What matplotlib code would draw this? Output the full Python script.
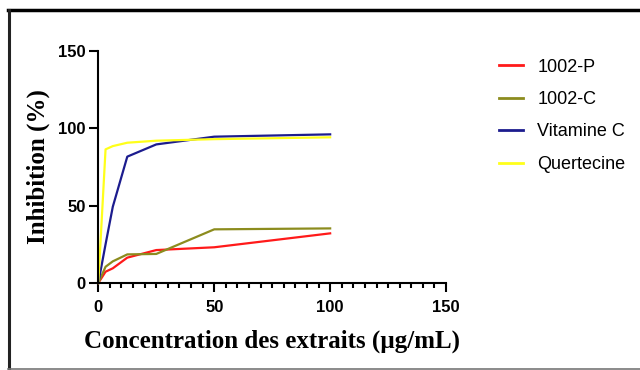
import matplotlib
matplotlib.use("Agg")
import matplotlib.pyplot as plt
from matplotlib.lines import Line2D
from matplotlib.ticker import MultipleLocator

# concentrations (ug/mL) and % inhibition
conc = [0, 3.125, 6.25, 12.5, 25, 50, 100]
p1002 = [0, 7.3, 9.5, 16.4, 21.3, 23.1, 32.1]
c1002 = [0, 10.5, 14.0, 18.5, 18.8, 34.7, 35.3]
vitc = [0, 25.0, 49.3, 81.7, 89.6, 94.6, 96.1]
querc = [0, 86.4, 88.5, 90.7, 92.0, 93.0, 94.2]

series = [
    ("1002-P", p1002, "#ff1a1a"),
    ("1002-C", c1002, "#8c8c1e"),
    ("Vitamine C", vitc, "#1c1c8e"),
    ("Quertecine", querc, "#ffff1a"),
]

fig = plt.figure(figsize=(6.4, 3.7), dpi=100)
ax = fig.add_axes([0.1536, 0.2351, 0.5434, 0.6271])

for name, vals, col in series:
    ax.plot(conc, vals, color=col, lw=1.6, label=name, clip_on=False)

ax.set_xlim(0, 150)
ax.set_ylim(0, 150)
ax.set_xticks([0, 50, 100, 150])
ax.set_yticks([0, 50, 100, 150])
ax.xaxis.set_minor_locator(MultipleLocator(5))

for s in ["top", "right"]:
    ax.spines[s].set_visible(False)
for s in ["left", "bottom"]:
    ax.spines[s].set_linewidth(1.5)

ax.tick_params(axis="both", which="major", length=6.5, width=1.5)
ax.tick_params(axis="x", which="minor", length=3.5, width=1.5)
ax.tick_params(axis="x", which="major", pad=5.5)
ax.tick_params(axis="y", which="major", pad=2.5)
for lab in ax.get_xticklabels() + ax.get_yticklabels():
    lab.set_fontfamily("Liberation Sans")
    lab.set_fontweight("bold")
    lab.set_fontsize(12)

ax.set_xlabel("Concentration des extraits (µg/mL)", fontfamily="Liberation Serif",
              fontweight="bold", fontsize=18, labelpad=11)
ax.set_ylabel("Inhibition (%)", fontfamily="Liberation Serif",
              fontweight="bold", fontsize=18, labelpad=6)

leg = fig.legend(loc="upper left", bbox_to_anchor=(0.755, 0.885), frameon=False,
                 prop={"family": "Liberation Sans", "size": 13},
                 handlelength=1.3, handletextpad=0.8, labelspacing=0.85)
for h in leg.get_lines():
    h.set_linewidth(2)

# frame around the picture
fig.add_artist(Line2D([8 / 640, 1.0], [1 - 10 / 370, 1 - 10 / 370],
                      transform=fig.transFigure, color="black", lw=2.5))
fig.add_artist(Line2D([8.5 / 640, 8.5 / 640], [1 - 10 / 370, 0],
                      transform=fig.transFigure, color="#222222", lw=2.2))
fig.add_artist(Line2D([8 / 640, 1.0], [1.5 / 370, 1.5 / 370],
                      transform=fig.transFigure, color="#777777", lw=1.2))

fig.savefig("out.png", dpi=100)
